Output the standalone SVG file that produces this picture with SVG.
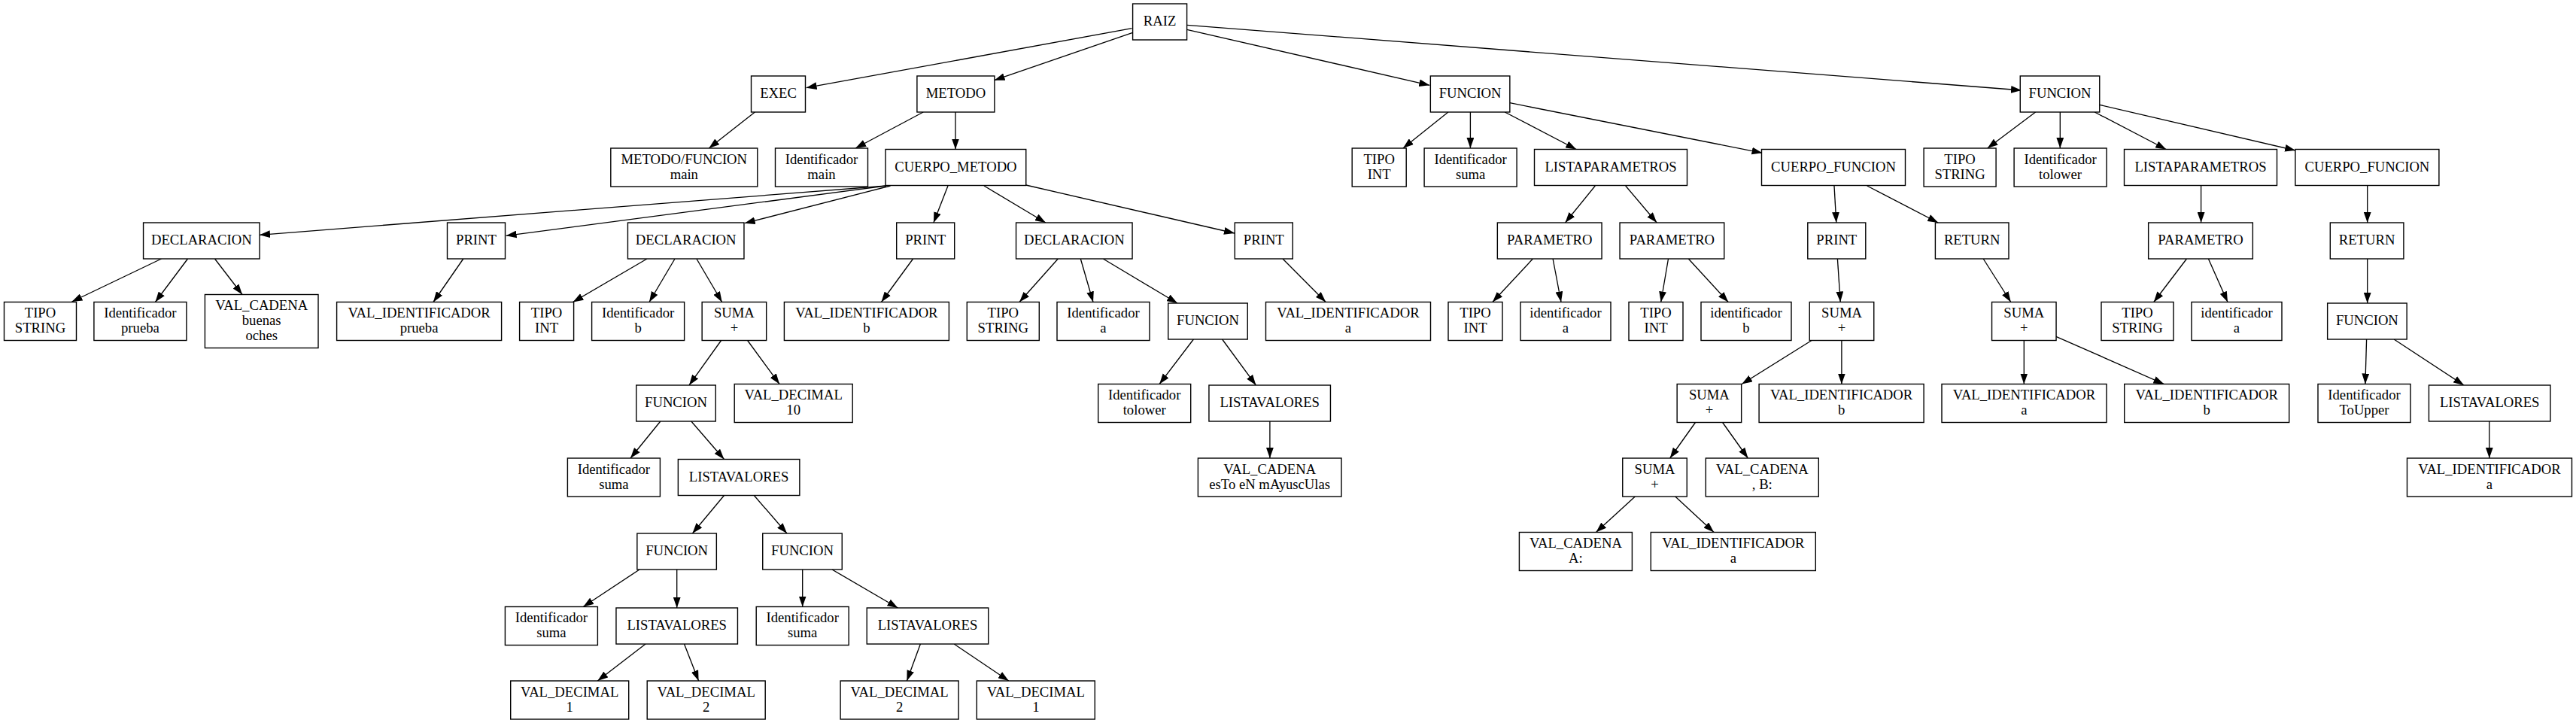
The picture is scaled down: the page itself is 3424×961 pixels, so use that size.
<svg xmlns="http://www.w3.org/2000/svg" width="3424" height="961" viewBox="0 0 3424 961">
<style>
.n rect{fill:#fff;stroke:#000;stroke-width:1.4}
text{font-family:"Liberation Serif","Times New Roman",serif;font-size:18.67px;text-anchor:middle;fill:#000}
.e line{stroke:#000;stroke-width:1.33;marker-end:url(#ah)}
</style>
<defs>
<marker id="ah" markerUnits="userSpaceOnUse" markerWidth="14" markerHeight="10" refX="13.3" refY="4.67" orient="auto" viewBox="0 0 13.3 9.34"><path d="M0,0 L13.3,4.67 L0,9.34 z" fill="#000"/></marker>
</defs>
<rect width="3424" height="961" fill="#fff"/>
<g id="edges" class="e">
<line x1="1504.5" y1="37.7" x2="1071.6" y2="116.7"/>
<line x1="1505.6" y1="43.3" x2="1321.6" y2="106.7"/>
<line x1="1577.7" y1="39.3" x2="1900.3" y2="113.3"/>
<line x1="1577.7" y1="33.3" x2="2687" y2="120"/>
<line x1="1003.4" y1="149" x2="942.3" y2="197"/>
<line x1="1227.2" y1="149" x2="1137.1" y2="197"/>
<line x1="1270" y1="149" x2="1270" y2="198.5"/>
<line x1="1924.9" y1="149" x2="1864.9" y2="197"/>
<line x1="1954.4" y1="149" x2="1954.4" y2="197"/>
<line x1="2000.2" y1="149" x2="2095.2" y2="198.5"/>
<line x1="2006.8" y1="136.7" x2="2342.5" y2="203.3"/>
<line x1="2705.6" y1="149" x2="2641.7" y2="197"/>
<line x1="2738.3" y1="149" x2="2738.3" y2="197"/>
<line x1="2784.2" y1="149" x2="2879.2" y2="198.5"/>
<line x1="2790.7" y1="139.3" x2="3051.1" y2="200"/>
<line x1="1178" y1="247" x2="345" y2="312.3"/>
<line x1="1177.5" y1="247" x2="672.6" y2="313.3"/>
<line x1="1183.5" y1="247" x2="989.7" y2="296.7"/>
<line x1="1260" y1="247" x2="1240.9" y2="296"/>
<line x1="1308" y1="247" x2="1389.9" y2="296"/>
<line x1="1363.7" y1="246" x2="1641" y2="310"/>
<line x1="2120.3" y1="247" x2="2080.5" y2="296"/>
<line x1="2160.7" y1="247" x2="2202.2" y2="296"/>
<line x1="2438" y1="247" x2="2440.8" y2="296"/>
<line x1="2481.7" y1="247" x2="2576.2" y2="296"/>
<line x1="2925.6" y1="247" x2="2925.6" y2="296"/>
<line x1="3146.7" y1="247" x2="3146.7" y2="296"/>
<line x1="214.5" y1="344" x2="95.5" y2="401"/>
<line x1="249.5" y1="344" x2="206.4" y2="401.5"/>
<line x1="285.5" y1="344" x2="322" y2="391.5"/>
<line x1="615.8" y1="344" x2="576" y2="401.5"/>
<line x1="860" y1="344" x2="761.5" y2="401.5"/>
<line x1="897" y1="344" x2="863" y2="401.5"/>
<line x1="925.9" y1="344" x2="959.7" y2="401.5"/>
<line x1="1213.6" y1="344" x2="1171.5" y2="401.5"/>
<line x1="1406.3" y1="344" x2="1355" y2="401.5"/>
<line x1="1436.3" y1="344" x2="1453" y2="401.5"/>
<line x1="1466.3" y1="344" x2="1565" y2="403"/>
<line x1="1705" y1="344" x2="1762.2" y2="401.5"/>
<line x1="2037.4" y1="344" x2="1983.9" y2="401.5"/>
<line x1="2064.1" y1="344" x2="2075" y2="401.5"/>
<line x1="2217.5" y1="344" x2="2207.7" y2="401.5"/>
<line x1="2244.3" y1="344" x2="2297.2" y2="401.5"/>
<line x1="2442.4" y1="344" x2="2446.2" y2="401.5"/>
<line x1="2636.2" y1="344" x2="2672.8" y2="401.5"/>
<line x1="2906.5" y1="344" x2="2862.8" y2="401.5"/>
<line x1="2935.4" y1="344" x2="2961" y2="401.5"/>
<line x1="3146.7" y1="344" x2="3146.7" y2="403"/>
<line x1="958.6" y1="452.5" x2="916" y2="512"/>
<line x1="993.6" y1="452.5" x2="1036.1" y2="510.5"/>
<line x1="1586.4" y1="451" x2="1541.1" y2="510.5"/>
<line x1="1624.6" y1="451" x2="1669.4" y2="512"/>
<line x1="2408" y1="452.5" x2="2315.2" y2="510.5"/>
<line x1="2447.9" y1="452.5" x2="2447.9" y2="510.5"/>
<line x1="2690.3" y1="452.5" x2="2690.3" y2="510.5"/>
<line x1="2732.9" y1="447.3" x2="2876.4" y2="510.5"/>
<line x1="3145.6" y1="451" x2="3143.9" y2="510.5"/>
<line x1="3182.1" y1="451" x2="3275" y2="512"/>
<line x1="877.8" y1="560" x2="838" y2="609"/>
<line x1="918.8" y1="560" x2="962.5" y2="610.5"/>
<line x1="1687.9" y1="560" x2="1687.9" y2="609"/>
<line x1="2253.5" y1="561.5" x2="2219.7" y2="609"/>
<line x1="2289.6" y1="561.5" x2="2323.4" y2="609"/>
<line x1="3308.8" y1="560" x2="3308.8" y2="609"/>
<line x1="962.5" y1="658.5" x2="920.4" y2="709"/>
<line x1="1002.3" y1="658.5" x2="1046" y2="709"/>
<line x1="2173.3" y1="660" x2="2121.4" y2="707.5"/>
<line x1="2226.8" y1="660" x2="2278.1" y2="707.5"/>
<line x1="850" y1="757" x2="775.2" y2="806.5"/>
<line x1="899.7" y1="757" x2="899.7" y2="808"/>
<line x1="1066.7" y1="757" x2="1066.7" y2="806.5"/>
<line x1="1106" y1="757" x2="1193.4" y2="808"/>
<line x1="858" y1="856" x2="794.3" y2="905"/>
<line x1="909.5" y1="856" x2="928.6" y2="905"/>
<line x1="1223.4" y1="856" x2="1205.4" y2="905"/>
<line x1="1268.2" y1="856" x2="1340.8" y2="905"/>
</g>
<g id="n0" class="n"><rect x="1505.6" y="5" width="72" height="48"/><text x="1541.6" y="34">RAIZ</text></g>
<g id="n1" class="n"><rect x="998.5" y="101" width="72" height="48"/><text x="1034.5" y="130">EXEC</text></g>
<g id="n2" class="n"><rect x="1218.9" y="101" width="103" height="48"/><text x="1270.4" y="130">METODO</text></g>
<g id="n3" class="n"><rect x="1901.35" y="101" width="105.5" height="48"/><text x="1954.1" y="130">FUNCION</text></g>
<g id="n4" class="n"><rect x="2685.25" y="101" width="105.5" height="48"/><text x="2738" y="130">FUNCION</text></g>
<g id="n5" class="n"><rect x="811.8" y="197" width="195" height="51"/><text x="909.3" y="217.5">METODO/FUNCION</text><text x="909.3" y="237.5">main</text></g>
<g id="n6" class="n"><rect x="1030.5" y="197" width="123" height="51"/><text x="1092" y="217.5">Identificador</text><text x="1092" y="237.5">main</text></g>
<g id="n7" class="n"><rect x="1177.05" y="198.5" width="186.7" height="48"/><text x="1270.4" y="227.5">CUERPO_METODO</text></g>
<g id="n8" class="n"><rect x="1797.2" y="197" width="72" height="51"/><text x="1833.2" y="217.5">TIPO</text><text x="1833.2" y="237.5">INT</text></g>
<g id="n9" class="n"><rect x="1893.1" y="197" width="123" height="51"/><text x="1954.6" y="217.5">Identificador</text><text x="1954.6" y="237.5">suma</text></g>
<g id="n10" class="n"><rect x="2039.5" y="198.5" width="203" height="48"/><text x="2141" y="227.5">LISTAPARAMETROS</text></g>
<g id="n11" class="n"><rect x="2341.5" y="198.5" width="191" height="48"/><text x="2437" y="227.5">CUERPO_FUNCION</text></g>
<g id="n12" class="n"><rect x="2557.1" y="197" width="96" height="51"/><text x="2605.1" y="217.5">TIPO</text><text x="2605.1" y="237.5">STRING</text></g>
<g id="n13" class="n"><rect x="2677.1" y="197" width="123" height="51"/><text x="2738.6" y="217.5">Identificador</text><text x="2738.6" y="237.5">tolower</text></g>
<g id="n14" class="n"><rect x="2823.5" y="198.5" width="203" height="48"/><text x="2925" y="227.5">LISTAPARAMETROS</text></g>
<g id="n15" class="n"><rect x="3050.9" y="198.5" width="191" height="48"/><text x="3146.4" y="227.5">CUERPO_FUNCION</text></g>
<g id="n16" class="n"><rect x="190.55" y="296" width="154.5" height="48"/><text x="267.8" y="325">DECLARACION</text></g>
<g id="n17" class="n"><rect x="594.5" y="296" width="77" height="48"/><text x="633" y="325">PRINT</text></g>
<g id="n18" class="n"><rect x="834.45" y="296" width="154.5" height="48"/><text x="911.7" y="325">DECLARACION</text></g>
<g id="n19" class="n"><rect x="1191.7" y="296" width="77" height="48"/><text x="1230.2" y="325">PRINT</text></g>
<g id="n20" class="n"><rect x="1350.55" y="296" width="154.5" height="48"/><text x="1427.8" y="325">DECLARACION</text></g>
<g id="n21" class="n"><rect x="1641.3" y="296" width="77" height="48"/><text x="1679.8" y="325">PRINT</text></g>
<g id="n22" class="n"><rect x="1990.35" y="296" width="138.7" height="48"/><text x="2059.7" y="325">PARAMETRO</text></g>
<g id="n23" class="n"><rect x="2153.05" y="296" width="138.7" height="48"/><text x="2222.4" y="325">PARAMETRO</text></g>
<g id="n24" class="n"><rect x="2402.8" y="296" width="77" height="48"/><text x="2441.3" y="325">PRINT</text></g>
<g id="n25" class="n"><rect x="2572.4" y="296" width="97.6" height="48"/><text x="2621.2" y="325">RETURN</text></g>
<g id="n26" class="n"><rect x="2855.65" y="296" width="138.7" height="48"/><text x="2925" y="325">PARAMETRO</text></g>
<g id="n27" class="n"><rect x="3097.3" y="296" width="97.6" height="48"/><text x="3146.1" y="325">RETURN</text></g>
<g id="n28" class="n"><rect x="5.5" y="401.5" width="96" height="51"/><text x="53.5" y="422">TIPO</text><text x="53.5" y="442">STRING</text></g>
<g id="n29" class="n"><rect x="124.9" y="401.5" width="123" height="51"/><text x="186.4" y="422">Identificador</text><text x="186.4" y="442">prueba</text></g>
<g id="n30" class="n"><rect x="272.4" y="391.5" width="150.6" height="71"/><text x="347.7" y="412">VAL_CADENA</text><text x="347.7" y="432">buenas</text><text x="347.7" y="452">oches</text></g>
<g id="n31" class="n"><rect x="447.6" y="401.5" width="219" height="51"/><text x="557.1" y="422">VAL_IDENTIFICADOR</text><text x="557.1" y="442">prueba</text></g>
<g id="n32" class="n"><rect x="690.6" y="401.5" width="72" height="51"/><text x="726.6" y="422">TIPO</text><text x="726.6" y="442">INT</text></g>
<g id="n33" class="n"><rect x="786.6" y="401.5" width="123" height="51"/><text x="848.1" y="422">Identificador</text><text x="848.1" y="442">b</text></g>
<g id="n34" class="n"><rect x="933.15" y="401.5" width="85.5" height="51"/><text x="975.9" y="422">SUMA</text><text x="975.9" y="442">+</text></g>
<g id="n35" class="n"><rect x="1042.4" y="401.5" width="219" height="51"/><text x="1151.9" y="422">VAL_IDENTIFICADOR</text><text x="1151.9" y="442">b</text></g>
<g id="n36" class="n"><rect x="1285.3" y="401.5" width="96" height="51"/><text x="1333.3" y="422">TIPO</text><text x="1333.3" y="442">STRING</text></g>
<g id="n37" class="n"><rect x="1405" y="401.5" width="123" height="51"/><text x="1466.5" y="422">Identificador</text><text x="1466.5" y="442">a</text></g>
<g id="n38" class="n"><rect x="1552.75" y="403" width="105.5" height="48"/><text x="1605.5" y="432">FUNCION</text></g>
<g id="n39" class="n"><rect x="1682.5" y="401.5" width="219" height="51"/><text x="1792" y="422">VAL_IDENTIFICADOR</text><text x="1792" y="442">a</text></g>
<g id="n40" class="n"><rect x="1925" y="401.5" width="72" height="51"/><text x="1961" y="422">TIPO</text><text x="1961" y="442">INT</text></g>
<g id="n41" class="n"><rect x="2021" y="401.5" width="120" height="51"/><text x="2081" y="422">identificador</text><text x="2081" y="442">a</text></g>
<g id="n42" class="n"><rect x="2165" y="401.5" width="72" height="51"/><text x="2201" y="422">TIPO</text><text x="2201" y="442">INT</text></g>
<g id="n43" class="n"><rect x="2261" y="401.5" width="120" height="51"/><text x="2321" y="422">identificador</text><text x="2321" y="442">b</text></g>
<g id="n44" class="n"><rect x="2405.25" y="401.5" width="85.5" height="51"/><text x="2448" y="422">SUMA</text><text x="2448" y="442">+</text></g>
<g id="n45" class="n"><rect x="2647.55" y="401.5" width="85.5" height="51"/><text x="2690.3" y="422">SUMA</text><text x="2690.3" y="442">+</text></g>
<g id="n46" class="n"><rect x="2793" y="401.5" width="96" height="51"/><text x="2841" y="422">TIPO</text><text x="2841" y="442">STRING</text></g>
<g id="n47" class="n"><rect x="2913" y="401.5" width="120" height="51"/><text x="2973" y="422">identificador</text><text x="2973" y="442">a</text></g>
<g id="n48" class="n"><rect x="3093.65" y="403" width="105.5" height="48"/><text x="3146.4" y="432">FUNCION</text></g>
<g id="n49" class="n"><rect x="845.75" y="512" width="105.5" height="48"/><text x="898.5" y="541">FUNCION</text></g>
<g id="n50" class="n"><rect x="976.2" y="510.5" width="157" height="51"/><text x="1054.7" y="531">VAL_DECIMAL</text><text x="1054.7" y="551">10</text></g>
<g id="n51" class="n"><rect x="1459.7" y="510.5" width="123" height="51"/><text x="1521.2" y="531">Identificador</text><text x="1521.2" y="551">tolower</text></g>
<g id="n52" class="n"><rect x="1606.95" y="512" width="161.5" height="48"/><text x="1687.7" y="541">LISTAVALORES</text></g>
<g id="n53" class="n"><rect x="2229.15" y="510.5" width="85.5" height="51"/><text x="2271.9" y="531">SUMA</text><text x="2271.9" y="551">+</text></g>
<g id="n54" class="n"><rect x="2338.1" y="510.5" width="219" height="51"/><text x="2447.6" y="531">VAL_IDENTIFICADOR</text><text x="2447.6" y="551">b</text></g>
<g id="n55" class="n"><rect x="2581" y="510.5" width="219" height="51"/><text x="2690.5" y="531">VAL_IDENTIFICADOR</text><text x="2690.5" y="551">a</text></g>
<g id="n56" class="n"><rect x="2823.7" y="510.5" width="219" height="51"/><text x="2933.2" y="531">VAL_IDENTIFICADOR</text><text x="2933.2" y="551">b</text></g>
<g id="n57" class="n"><rect x="3081" y="510.5" width="123" height="51"/><text x="3142.5" y="531">Identificador</text><text x="3142.5" y="551">ToUpper</text></g>
<g id="n58" class="n"><rect x="3228.45" y="512" width="161.5" height="48"/><text x="3309.2" y="541">LISTAVALORES</text></g>
<g id="n59" class="n"><rect x="754.4" y="609" width="123" height="51"/><text x="815.9" y="629.5">Identificador</text><text x="815.9" y="649.5">suma</text></g>
<g id="n60" class="n"><rect x="901.35" y="610.5" width="161.5" height="48"/><text x="982.1" y="639.5">LISTAVALORES</text></g>
<g id="n61" class="n"><rect x="1592.4" y="609" width="190.6" height="51"/><text x="1687.7" y="629.5">VAL_CADENA</text><text x="1687.7" y="649.5">esTo eN mAyuscUlas</text></g>
<g id="n62" class="n"><rect x="2156.75" y="609" width="85.5" height="51"/><text x="2199.5" y="629.5">SUMA</text><text x="2199.5" y="649.5">+</text></g>
<g id="n63" class="n"><rect x="2267.3" y="609" width="150" height="51"/><text x="2342.3" y="629.5">VAL_CADENA</text><text x="2342.3" y="649.5">, B:</text></g>
<g id="n64" class="n"><rect x="3199.5" y="609" width="219" height="51"/><text x="3309" y="629.5">VAL_IDENTIFICADOR</text><text x="3309" y="649.5">a</text></g>
<g id="n65" class="n"><rect x="846.85" y="709" width="105.5" height="48"/><text x="899.6" y="738">FUNCION</text></g>
<g id="n66" class="n"><rect x="1013.75" y="709" width="105.5" height="48"/><text x="1066.5" y="738">FUNCION</text></g>
<g id="n67" class="n"><rect x="2019.4" y="707.5" width="150" height="51"/><text x="2094.4" y="728">VAL_CADENA</text><text x="2094.4" y="748">A:</text></g>
<g id="n68" class="n"><rect x="2194.3" y="707.5" width="219" height="51"/><text x="2303.8" y="728">VAL_IDENTIFICADOR</text><text x="2303.8" y="748">a</text></g>
<g id="n69" class="n"><rect x="671.4" y="806.5" width="123" height="51"/><text x="732.9" y="827">Identificador</text><text x="732.9" y="847">suma</text></g>
<g id="n70" class="n"><rect x="818.95" y="808" width="161.5" height="48"/><text x="899.7" y="837">LISTAVALORES</text></g>
<g id="n71" class="n"><rect x="1005.2" y="806.5" width="123" height="51"/><text x="1066.7" y="827">Identificador</text><text x="1066.7" y="847">suma</text></g>
<g id="n72" class="n"><rect x="1152.25" y="808" width="161.5" height="48"/><text x="1233" y="837">LISTAVALORES</text></g>
<g id="n73" class="n"><rect x="678.7" y="905" width="157" height="51"/><text x="757.2" y="925.5">VAL_DECIMAL</text><text x="757.2" y="945.5">1</text></g>
<g id="n74" class="n"><rect x="860.2" y="905" width="157" height="51"/><text x="938.7" y="925.5">VAL_DECIMAL</text><text x="938.7" y="945.5">2</text></g>
<g id="n75" class="n"><rect x="1117.1" y="905" width="157" height="51"/><text x="1195.6" y="925.5">VAL_DECIMAL</text><text x="1195.6" y="945.5">2</text></g>
<g id="n76" class="n"><rect x="1298.3" y="905" width="157" height="51"/><text x="1376.8" y="925.5">VAL_DECIMAL</text><text x="1376.8" y="945.5">1</text></g>
</svg>
